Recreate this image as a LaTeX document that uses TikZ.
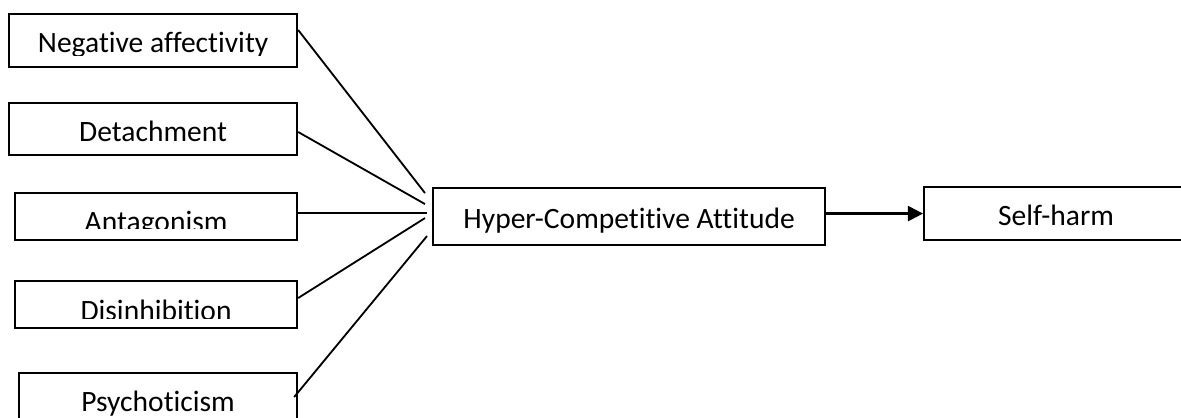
\documentclass[tikz,border=0pt]{standalone}
\usepackage{fontspec}
\setmainfont{Carlito}[Ligatures={NoCommon,NoContextual}]
\usetikzlibrary{arrows.meta,positioning,calc}

\begin{document}
\begin{tikzpicture}[
		x=0.025cm,y=-0.025cm,
		lab/.style={font=\fontsize{21pt}{25pt}\selectfont,anchor=base,inner sep=0pt},
		box/.style={draw,line width=1.5pt,anchor=north west,inner sep=0pt},
		link/.style={line width=1.3pt},
		arr/.style={-{Triangle[length=0.38cm,width=0.38cm]},line width=1.6pt}
		]
		
		\useasboundingbox (0,0) rectangle (1181,417);
		
		% --- Trait boxes (left column)
		\node[box,minimum width=7.2cm,minimum height=1.325cm] (neg) at (8,13) {};
		\node[box,minimum width=7.2cm,minimum height=1.3cm] (det) at (8,102) {};
		\node[box,minimum width=7.05cm,minimum height=1.175cm] (antag) at (14,192) {};
		\node[box,minimum width=7.05cm,minimum height=1.175cm] (disinh) at (14,280) {};
		\node[box,minimum width=6.95cm,minimum height=1.3cm] (psych) at (18,372) {};
		
		\begin{scope}
			\clip (neg.north west) rectangle ($(neg.north east)+(0,42)$);
			\node[lab] (neglab) at ($(neg.north)+(0,39)$) {Negative affectivity};
		\end{scope}
		\node[lab] (detlab) at ($(det.north)+(0,39)$) {Detachment};
		\begin{scope}
			\clip (antag.north west) rectangle ($(antag.north east)+(0,36)$);
			\node[lab] (antaglab) at ($(antag.north)+(0,39.5)$) {Antagonism};
		\end{scope}
		\begin{scope}
			\clip (disinh.north west) rectangle ($(disinh.north east)+(0,38)$);
			\node[lab] (disinhlab) at ($(disinh.north)+(0,40.5)$) {Disinhibition};
		\end{scope}
		\node[lab] (psychlab) at ($(psych.north)+(0,39.5)$) {Psychoticism};
		
		% --- Mediator and outcome
		\node[box,minimum width=9.8cm,minimum height=1.425cm] (hyper) at (432,187) {};
		\node[lab] (hyperlab) at ($(hyper.north)+(0,41)$) {Hyper-Competitive Attitude};
		
		\node[box,minimum width=6.6cm,minimum height=1.325cm] (harm) at (923,186) {};
		\node[lab] (harmlab) at ($(harm.north)+(0,39)$) {Self-harm};
		
		% --- Free ends just left of the mediator
		\coordinate (a3) at ($(antag.north east)+(0,21)$);
		\coordinate (in1) at ($(hyper.west)+(-7,-23.5)$);
		\coordinate (in2) at ($(hyper.west)+(-7,-12.5)$);
		\coordinate (in3) at ($(hyper.west)+(-5,0)$);
		\coordinate (in4) at ($(hyper.west)+(-7,1.5)$);
		\coordinate (in5) at ($(hyper.west)+(-5,19.5)$);
		
		\draw[link] ($(neg.north east)+(0,17)$) -- (in1);
		\draw[link] ($(det.north east)+(0,30)$) -- (in2);
		\draw[link] (a3) -- (a3 -| in3);
		\draw[link] ($(disinh.north east)+(0,18)$) -- (in4);
		\draw[link] ($(psych.north east)+(-4,25)$) -- (in5);
		
		\draw[arr] (hyper.east |- harm.west) -- (harm.west);
		
	\end{tikzpicture}
\end{document}
